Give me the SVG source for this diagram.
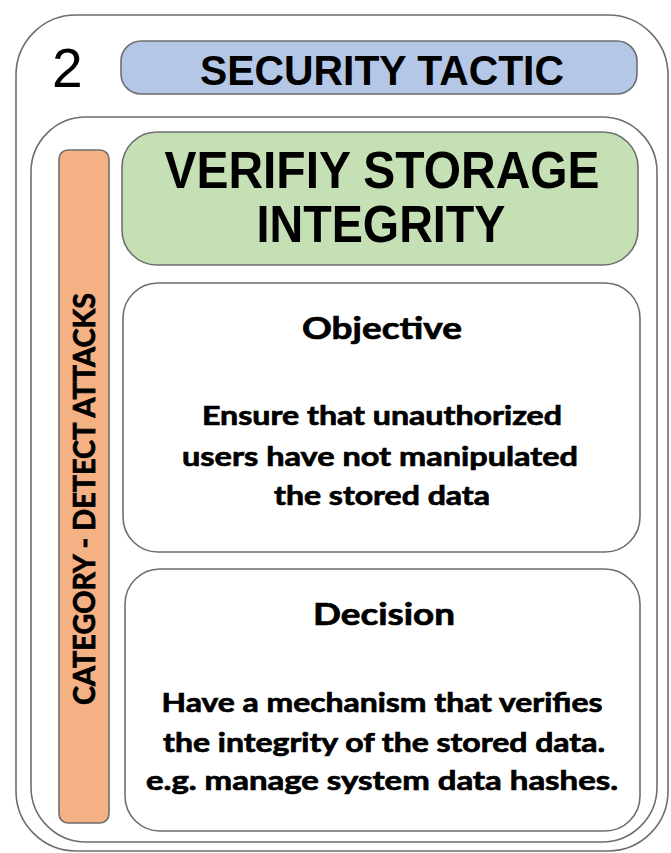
<svg xmlns="http://www.w3.org/2000/svg" width="671" height="853" viewBox="0 0 671 853">
  <style>
    .frame { fill: #ffffff; stroke: #6e6e6e; stroke-width: 1.6; }
    .title { font-family: "Liberation Sans Narrow", "Liberation Sans", Arial, sans-serif; font-weight: bold; fill: #000000; }
    .body { font-family: Lato, "Open Sans", "Liberation Sans", sans-serif; font-weight: bold; fill: #000000; stroke: #000000; stroke-width: 0.7; }
  </style>

  <!-- card frame -->
  <g id="card">
    <rect class="frame" x="16" y="15" width="652" height="836" rx="60" ry="60"/>
    <text x="52" y="87" font-family="Liberation Sans, Arial, sans-serif" font-size="55" fill="#000">2</text>
  </g>

  <!-- header pill -->
  <g id="header">
    <rect x="121" y="41" width="516" height="53" rx="20" ry="20" fill="#b4c7e7" stroke="#6e6e6e" stroke-width="1.6"/>
    <text class="title" x="382" y="85" font-size="43" text-anchor="middle" textLength="364" lengthAdjust="spacingAndGlyphs">SECURITY  TACTIC</text>
  </g>

  <!-- inner panel -->
  <g id="panel">
    <rect class="frame" x="31" y="117" width="626" height="725" rx="55" ry="55"/>
  </g>

  <!-- category bar -->
  <g id="category">
    <rect x="59" y="150" width="50" height="673" rx="9" ry="9" fill="#f4b183" stroke="#6e6e6e" stroke-width="1.6"/>
    <text class="body" transform="translate(95 499) rotate(-90)" x="0" y="0" font-size="30" text-anchor="middle" textLength="412" lengthAdjust="spacingAndGlyphs">CATEGORY - DETECT ATTACKS</text>
  </g>

  <!-- tactic name -->
  <g id="tactic">
    <rect x="122" y="132" width="516" height="133" rx="35" ry="35" fill="#c5e0b4" stroke="#6e6e6e" stroke-width="1.6"/>
    <text class="title" x="382" y="188" font-size="52" text-anchor="middle" textLength="435" lengthAdjust="spacingAndGlyphs">VERIFIY  STORAGE</text>
    <text class="title" x="381" y="242" font-size="52" text-anchor="middle" textLength="249" lengthAdjust="spacingAndGlyphs">INTEGRITY</text>
  </g>

  <!-- objective -->
  <g id="objective">
    <rect class="frame" x="123" y="283" width="517" height="269" rx="35" ry="35"/>
    <text class="body" x="382" y="339" font-size="31" text-anchor="middle" textLength="160" lengthAdjust="spacingAndGlyphs">Objective</text>
    <text class="body" x="382" y="425" font-size="26" text-anchor="middle" textLength="360" lengthAdjust="spacingAndGlyphs">Ensure that unauthorized</text>
    <text class="body" x="380" y="466" font-size="26" text-anchor="middle" textLength="396" lengthAdjust="spacingAndGlyphs">users have not manipulated</text>
    <text class="body" x="382" y="505" font-size="26" text-anchor="middle" textLength="216" lengthAdjust="spacingAndGlyphs">the stored data</text>
  </g>

  <!-- decision -->
  <g id="decision">
    <rect class="frame" x="125" y="569" width="515" height="262" rx="35" ry="35"/>
    <text class="body" x="384" y="625" font-size="31" text-anchor="middle" textLength="142" lengthAdjust="spacingAndGlyphs">Decision</text>
    <text class="body" x="382" y="712" font-size="26" text-anchor="middle" textLength="441" lengthAdjust="spacingAndGlyphs">Have a mechanism that verifies</text>
    <text class="body" x="384" y="752" font-size="26" text-anchor="middle" textLength="442" lengthAdjust="spacingAndGlyphs">the integrity of the stored data.</text>
    <text class="body" x="382" y="790" font-size="26" text-anchor="middle" textLength="472" lengthAdjust="spacingAndGlyphs">e.g. manage system data hashes.</text>
  </g>

  <!-- no connectors in this card -->
  <g id="connectors"/>
</svg>
